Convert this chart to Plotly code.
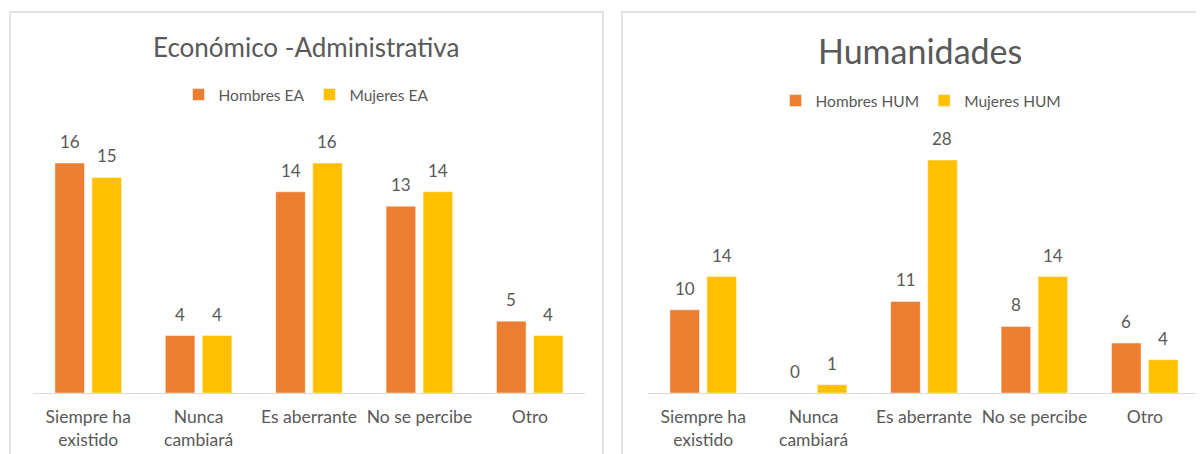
import plotly.graph_objects as go

categories = ["Siempre ha<br>existido", "Nunca<br>cambiará", "Es aberrante", "No se percibe", "Otro"]
hombres_ea = [16, 4, 14, 13, 5]
mujeres_ea = [15, 4, 16, 14, 4]
hombres_hum = [10, 0, 11, 8, 6]
mujeres_hum = [14, 1, 28, 14, 4]

ORANGE = "#ED7D31"
YELLOW = "#FFC000"
GRAY = "#595959"
FONT = "Lato"

# page body has an 8px default margin: work in reference pixel coords and shift
OFF = 8
W, H = 1204 - OFF, 454 - OFF

def px(x):
    return (x - OFF) / W

def py(y):
    return 1 - (y - OFF) / H

BARGAP = 0.33
GROUPGAP = 0.2

fig = go.Figure()

def bar(name, y, color, xa, ya, legend):
    return go.Bar(
        name=name, x=categories, y=y,
        marker=dict(color=color, line=dict(color="rgba(255,255,255,0.6)", width=0.8)),
        xaxis=xa, yaxis=ya, legend=legend, hoverinfo="x+y+name",
    )

fig.add_trace(bar("Hombres EA", hombres_ea, ORANGE, "x", "y", "legend"))
fig.add_trace(bar("Mujeres EA", mujeres_ea, YELLOW, "x", "y", "legend"))
fig.add_trace(bar("Hombres HUM", hombres_hum, ORANGE, "x2", "y2", "legend2"))
fig.add_trace(bar("Mujeres HUM", mujeres_hum, YELLOW, "x2", "y2", "legend2"))

annotations = []
axis_px = 552
slot = axis_px / len(categories) * (1 - BARGAP) / 2
for xa, ya, series in (("x", "y", (hombres_ea, mujeres_ea)), ("x2", "y2", (hombres_hum, mujeres_hum))):
    for k, vals in enumerate(series):
        shift = (k - 0.5) * slot
        for c, v in zip(categories, vals):
            annotations.append(dict(
                x=c, y=v, xref=xa, yref=ya, text=str(v), showarrow=False,
                xanchor="center", yanchor="bottom", xshift=shift, yshift=9,
                font=dict(family=FONT, size=17, color=GRAY)))

annotations += [
    dict(text="Económico -Administrativa", x=px(306), y=py(47), xref="paper", yref="paper",
         xanchor="center", yanchor="middle", showarrow=False,
         font=dict(family=FONT, size=26, color=GRAY)),
    dict(text="Humanidades", x=px(920), y=py(50), xref="paper", yref="paper",
         xanchor="center", yanchor="middle", showarrow=False,
         font=dict(family=FONT, size=34, color=GRAY)),
]

axis_common = dict(showgrid=False, showline=True, linecolor="#D9D9D9", linewidth=1.3,
                   ticks="", ticklabelstandoff=8,
                   tickfont=dict(family=FONT, size=17.5, color=GRAY), fixedrange=True)
yaxis_common = dict(showgrid=False, showline=False, showticklabels=False, zeroline=False, fixedrange=True)

fig.update_layout(
    width=W, height=H, margin=dict(l=0, r=0, t=0, b=0),
    paper_bgcolor="white", plot_bgcolor="white",
    barmode="group", bargap=BARGAP, bargroupgap=GROUPGAP,
    font=dict(family=FONT, color=GRAY),
    xaxis=dict(domain=[px(33), px(585)], anchor="y", **axis_common),
    yaxis=dict(domain=[py(393), py(134.25)], range=[0, 18], anchor="x", **yaxis_common),
    xaxis2=dict(domain=[px(648), px(1200)], anchor="y2", **axis_common),
    yaxis2=dict(domain=[py(393), py(143.4)], range=[0, 30], anchor="x2", **yaxis_common),
    legend=dict(orientation="h", x=px(306), y=py(95), xanchor="center", yanchor="middle",
                font=dict(family=FONT, size=15.5, color=GRAY), itemwidth=30, bgcolor="rgba(0,0,0,0)"),
    legend2=dict(orientation="h", x=px(921), y=py(101), xanchor="center", yanchor="middle",
                 font=dict(family=FONT, size=15.5, color=GRAY), itemwidth=30, bgcolor="rgba(0,0,0,0)"),
    annotations=annotations,
    shapes=[
        dict(type="rect", xref="paper", yref="paper", x0=px(10), x1=px(603), y0=-0.05, y1=py(12),
             line=dict(color="#D9D9D9", width=1.5), layer="below"),
        dict(type="rect", xref="paper", yref="paper", x0=px(622), x1=1.02, y0=-0.05, y1=py(12),
             line=dict(color="#D9D9D9", width=1.5), layer="below"),
    ],
    showlegend=True,
)

fig.write_html("out.html")
